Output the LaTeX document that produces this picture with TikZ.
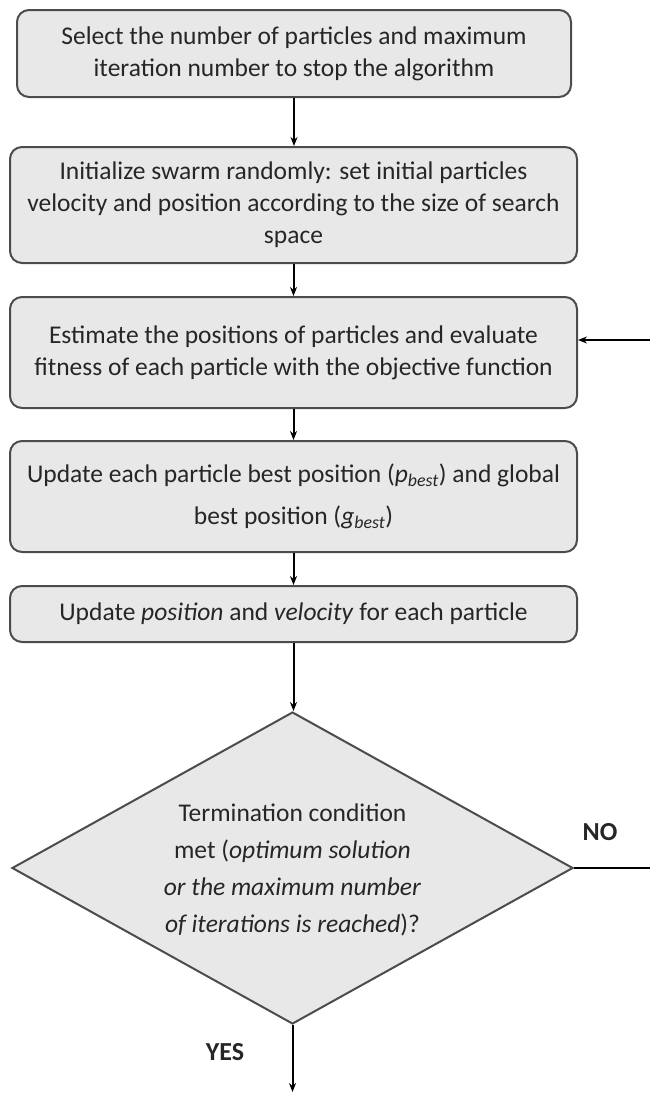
\documentclass[tikz,border=0pt]{standalone}
\usepackage{fontspec}
\setmainfont{Carlito}
\usetikzlibrary{arrows.meta, shapes.geometric}

\begin{document}
\begin{tikzpicture}[x=1pt, y=-1pt, >={Stealth[length=9pt, width=7pt]},
		stepbox/.style={draw=black!70, line width=2pt, fill=black!9, rounded corners=12pt,
			align=center, inner sep=0pt, text=black!85, font=\fontsize{25.5}{32}\selectfont,
			minimum width=567pt},
		decbox/.style={diamond, draw=black!70, line width=2pt, fill=black!9, inner sep=0pt,
			minimum width=561pt, minimum height=312pt},
		flow/.style={->, line width=2pt, black},
		lbl/.style={font=\fontsize{26}{30}\selectfont\bfseries, text=black!85}]
		
		\useasboundingbox (0,0) rectangle (649,1095);
		
		% 1. 步骤框
		\node[stepbox, minimum width=554pt, minimum height=87pt] (sel) at (294,53.5)
		{Select the number of particles and maximum\\iteration number to stop the algorithm};
		\node[stepbox, minimum height=116pt] (init) at (293.5,205)
		{Initialize swarm randomly: set initial particles\\velocity and position according to the size of search\\space};
		\node[stepbox, minimum height=111pt] (est) at (293.5,352.5)
		{Estimate the positions of particles and evaluate\\fitness of each particle with the objective function};
		\node[stepbox, minimum height=111pt, font=\fontsize{25.5}{42}\selectfont] (upd) at (293.5,496.5)
		{Update each particle best position (\textit{p}\textsubscript{\textit{best}}) and global\\best position (\textit{g}\textsubscript{\textit{best}})};
		\node[stepbox, minimum height=56pt] (mov) at (293.5,614)
		{Update \textit{position} and \textit{velocity} for each particle};
		
		% 2. 判断框
		\node[decbox] (dec) at (292.5,868) {};
		\node[align=center, text=black!85, font=\fontsize{25.5}{37}\selectfont] (cond) at (292.5,870)
		{Termination condition\\met (\textit{optimum solution}\\\textit{or the maximum number}\\\textit{of iterations is reached})?};
		
		% 3. 辅助坐标 (回路在图外拐弯)
		\coordinate (back) at (665,868);
		\coordinate (back2) at (665,340);
		\coordinate (stop) at (292.5,1092);
		
		% 4. 主流程箭头
		\draw[flow] (sel.south) -- (sel.south |- init.north);
		\draw[flow] (init.south) -- (est.north);
		\draw[flow] (est.south) -- (upd.north);
		\draw[flow] (upd.south) -- (mov.north);
		\draw[flow] (mov.south) -- (mov.south |- dec.north);
		\draw[flow] (dec.south) -- (stop);
		
		% 5. NO 回路
		\draw[flow] (dec.east) -- (back) -- (back2) -- (back2 -| est.east);
		
		% 6. 标签
		\node[lbl] (no) at (600,832) {NO};
		\node[lbl] (yes) at (225,1052) {YES};
		
	\end{tikzpicture}
\end{document}
